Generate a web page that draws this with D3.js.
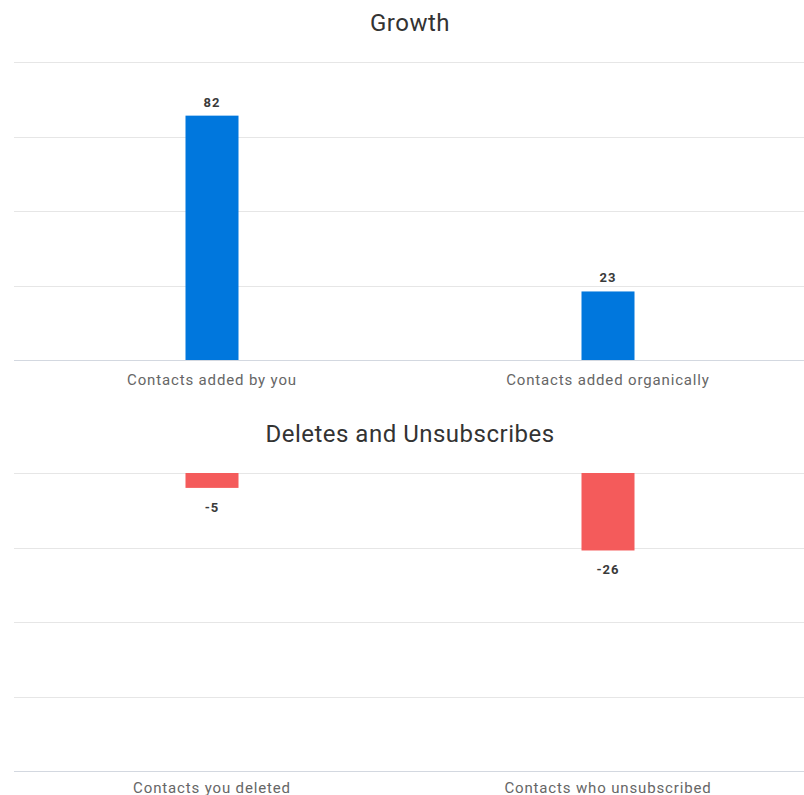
<!DOCTYPE html>
<html><head><meta charset="utf-8">
<script src="https://cdn.jsdelivr.net/npm/d3@7"></script>
<style>
html,body{margin:0;padding:0;background:#fff;}
svg{display:block;font-family:Roboto,"Noto Sans",sans-serif;}
</style></head>
<body>
<svg id="chart" width="804" height="795"></svg>
<script>
const growthCategories = ["Contacts added by you", "Contacts added organically"];
const growthValues = [82, 23];
const lossCategories = ["Contacts you deleted", "Contacts who unsubscribed"];
const lossValues = [-5, -26];
const growthTicks = [0, 25, 50, 75, 100];
const lossTicks = [0, -25, -50, -75, -100];

const svg = d3.select("#chart");
const W = 804;

function panel(opts) {
  const g = svg.append("g");
  const x = d3.scaleBand().domain(opts.categories).range([14, 806]).paddingInner(0).paddingOuter(0);
  const y = d3.scaleLinear().domain(opts.domain).range(opts.range);
  g.append("text").attr("x", 410).attr("y", opts.titleY).attr("text-anchor", "middle")
    .attr("font-size", 24).attr("fill", "#333").attr("letter-spacing", 0.5).text(opts.title);
  g.selectAll("line.grid").data(opts.ticks).join("line")
    .attr("x1", 14).attr("x2", W).attr("y1", d => Math.round(y(d)) + 0.5).attr("y2", d => Math.round(y(d)) + 0.5)
    .attr("stroke", "#e6e6e6").attr("stroke-width", 1);
  const axisY = Math.round(y(opts.axisValue)) + 0.5;
  g.append("line").attr("x1", 14).attr("x2", W).attr("y1", axisY).attr("y2", axisY)
    .attr("stroke", "#d3d8e0").attr("stroke-width", 1);
  const bw = 53;
  g.selectAll("rect.bar").data(opts.values).join("rect")
    .attr("x", (d, i) => x(opts.categories[i]) + x.bandwidth() / 2 - bw / 2)
    .attr("width", bw)
    .attr("y", d => Math.min(y(0), y(d)))
    .attr("height", d => Math.abs(y(d) - y(0)))
    .attr("fill", opts.color);
  g.selectAll("text.val").data(opts.values).join("text")
    .attr("x", (d, i) => x(opts.categories[i]) + x.bandwidth() / 2)
    .attr("y", d => d >= 0 ? y(d) - 9 : y(d) + 24)
    .attr("text-anchor", "middle").attr("font-size", 13).attr("font-weight", "bold")
    .attr("fill", "#3a3a3a").attr("letter-spacing", 1).text(d => d);
  g.selectAll("text.cat").data(opts.categories).join("text")
    .attr("x", d => x(d) + x.bandwidth() / 2)
    .attr("y", opts.catY)
    .attr("text-anchor", "middle").attr("font-size", 15).attr("fill", "#666")
    .attr("letter-spacing", 0.85).text(d => d);
}

panel({title: "Growth", titleY: 31, categories: growthCategories, values: growthValues,
  domain: [0, 100], range: [360, 62], ticks: growthTicks, axisValue: 0, color: "#0077dd", catY: 385});
panel({title: "Deletes and Unsubscribes", titleY: 442, categories: lossCategories, values: lossValues,
  domain: [-100, 0], range: [771, 473], ticks: lossTicks, axisValue: -100, color: "#f45b5b", catY: 793});
</script>
</body></html>
